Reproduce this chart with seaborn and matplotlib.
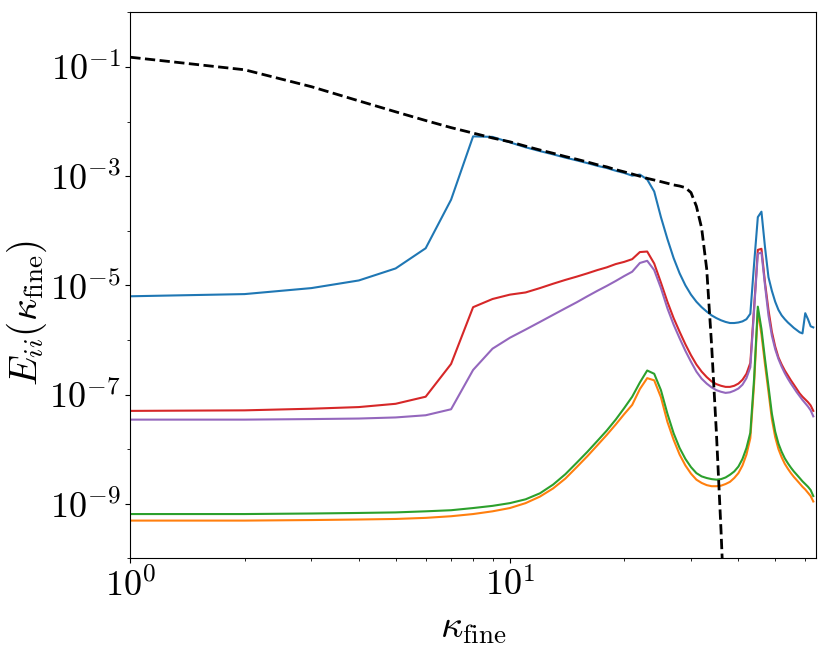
import numpy as np
import pandas as pd
import matplotlib
matplotlib.use("Agg")
import matplotlib.pyplot as plt
import matplotlib.ticker as mticker
import seaborn as sns

# wavenumbers of the fine grid
k_fine = list(range(1, 64))

# log10 of the spectra
log_blue = [-5.20, -5.16, -5.05, -4.91, -4.69, -4.32, -3.43, -2.27, -2.28, -2.38,
            -2.47, -2.54, -2.60, -2.66, -2.71, -2.76, -2.81, -2.85, -2.90, -2.94,
            -2.99, -2.97, -3.06, -3.28, -3.75, -4.15, -4.50, -4.78, -5.00, -5.17,
            -5.30, -5.40, -5.48, -5.55, -5.60, -5.64, -5.67, -5.69, -5.69, -5.68,
            -5.66, -5.62, -5.52, -4.60, -3.75, -3.65, -4.30, -4.85, -5.10, -5.30,
            -5.45, -5.55, -5.62, -5.68, -5.73, -5.78, -5.82, -5.86, -5.88, -5.51,
            -5.62, -5.75, -5.77]
log_orange = [-9.31, -9.31, -9.30, -9.29, -9.28, -9.26, -9.23, -9.19, -9.14, -9.08,
              -8.99, -8.87, -8.72, -8.54, -8.33, -8.13, -7.93, -7.74, -7.55, -7.36,
              -7.19, -6.90, -6.70, -6.74, -7.05, -7.50, -7.83, -8.10, -8.30, -8.45,
              -8.56, -8.62, -8.66, -8.68, -8.68, -8.67, -8.64, -8.60, -8.53, -8.44,
              -8.30, -8.10, -7.80, -6.80, -5.46, -5.90, -6.45, -6.95, -7.45, -7.78,
              -8.00, -8.15, -8.27, -8.36, -8.44, -8.51, -8.57, -8.63, -8.69, -8.74,
              -8.80, -8.86, -8.96]
log_green = [-9.19, -9.19, -9.18, -9.17, -9.16, -9.14, -9.12, -9.08, -9.04, -8.99,
             -8.92, -8.81, -8.65, -8.46, -8.25, -8.05, -7.85, -7.66, -7.46, -7.25,
             -7.04, -6.78, -6.56, -6.62, -6.92, -7.35, -7.71, -7.98, -8.18, -8.33,
             -8.44, -8.50, -8.53, -8.55, -8.56, -8.55, -8.52, -8.47, -8.41, -8.32,
             -8.18, -7.98, -7.70, -6.70, -5.39, -5.80, -6.35, -6.85, -7.35, -7.68,
             -7.90, -8.05, -8.17, -8.26, -8.34, -8.41, -8.47, -8.53, -8.59, -8.64,
             -8.69, -8.75, -8.86]
log_red = [-7.30, -7.29, -7.26, -7.23, -7.17, -7.04, -6.44, -5.40, -5.25, -5.17,
           -5.13, -5.05, -4.97, -4.90, -4.84, -4.78, -4.72, -4.67, -4.61, -4.57,
           -4.52, -4.39, -4.38, -4.60, -4.95, -5.30, -5.60, -5.85, -6.08, -6.28,
           -6.45, -6.58, -6.68, -6.76, -6.81, -6.84, -6.86, -6.86, -6.84, -6.80,
           -6.73, -6.62, -6.42, -5.40, -4.35, -4.33, -4.95, -5.45, -5.85, -6.12,
           -6.32, -6.45, -6.56, -6.65, -6.74, -6.82, -6.90, -6.98, -7.04, -7.09,
           -7.14, -7.20, -7.30]
log_purple = [-7.46, -7.46, -7.45, -7.44, -7.42, -7.38, -7.27, -6.55, -6.16, -5.96,
              -5.81, -5.67, -5.54, -5.42, -5.31, -5.20, -5.10, -5.01, -4.92, -4.83,
              -4.75, -4.59, -4.55, -4.72, -5.05, -5.42, -5.72, -5.97, -6.20, -6.40,
              -6.58, -6.71, -6.80, -6.87, -6.92, -6.95, -6.97, -6.96, -6.93, -6.89,
              -6.82, -6.70, -6.50, -5.45, -4.42, -4.40, -5.00, -5.55, -5.92, -6.17,
              -6.35, -6.49, -6.61, -6.71, -6.80, -6.88, -6.96, -7.03, -7.10, -7.16,
              -7.22, -7.29, -7.40]

# reference (coarse) spectrum, dashed black
k_ref = list(range(1, 38))
log_ref = [-0.82, -1.05, -1.36, -1.62, -1.82, -1.98, -2.11, -2.21, -2.30, -2.37,
           -2.45, -2.52, -2.58, -2.64, -2.69, -2.74, -2.79, -2.83, -2.88, -2.92,
           -2.96, -3.00, -3.04, -3.07, -3.10, -3.13, -3.16, -3.18, -3.21, -3.30,
           -3.55, -3.95, -4.70, -6.10, -7.70, -9.50, -11.50]

series_names = ["blue", "orange", "green", "red", "purple"]
series_logs = [log_blue, log_orange, log_green, log_red, log_purple]
colors = ["#1f77b4", "#ff7f0e", "#2ca02c", "#d62728", "#9467bd"]

frames = []
for name, vals in zip(series_names, series_logs):
    frames.append(pd.DataFrame({"k": k_fine, "E": np.power(10.0, vals), "series": name}))
df = pd.concat(frames, ignore_index=True)
df_ref = pd.DataFrame({"k": k_ref, "E": np.power(10.0, log_ref)})

plt.rcParams["mathtext.fontset"] = "cm"
plt.rcParams["font.family"] = ["DejaVu Serif"]

fig, ax = plt.subplots(figsize=(8.3, 6.56), dpi=100)
fig.subplots_adjust(left=0.157, right=0.983, top=0.981, bottom=0.149)

sns.lineplot(data=df, x="k", y="E", hue="series", palette=colors,
             estimator=None, linewidth=1.5, legend=False, ax=ax)
sns.lineplot(data=df_ref, x="k", y="E", color="k", linestyle="--",
             linewidth=2, estimator=None, ax=ax)

ax.set_xscale("log")
ax.set_yscale("log")
ax.set_xlim(1, 64)
ax.set_ylim(1e-10, 1)

ax.set_yticks([1e-9, 1e-7, 1e-5, 1e-3, 1e-1])
ax.yaxis.set_minor_locator(mticker.FixedLocator([1e-10, 1e-8, 1e-6, 1e-4, 1e-2, 1e0]))
ax.yaxis.set_minor_formatter(mticker.NullFormatter())
ax.xaxis.set_minor_formatter(mticker.NullFormatter())

fmt = mticker.FuncFormatter(lambda v, p: r"$10^{%d}$" % int(round(np.log10(v))))
ax.xaxis.set_major_formatter(fmt)
ax.yaxis.set_major_formatter(fmt)
ax.tick_params(labelsize=26)

ax.set_xlabel(r"$\kappa_{\rm fine}$", fontsize=28)
ax.set_ylabel(r"$E_{ii}(\kappa_{\rm fine})$", fontsize=28)
ax.yaxis.set_label_coords(-0.118, 0.45)

fig.savefig("out.png", dpi=100)
